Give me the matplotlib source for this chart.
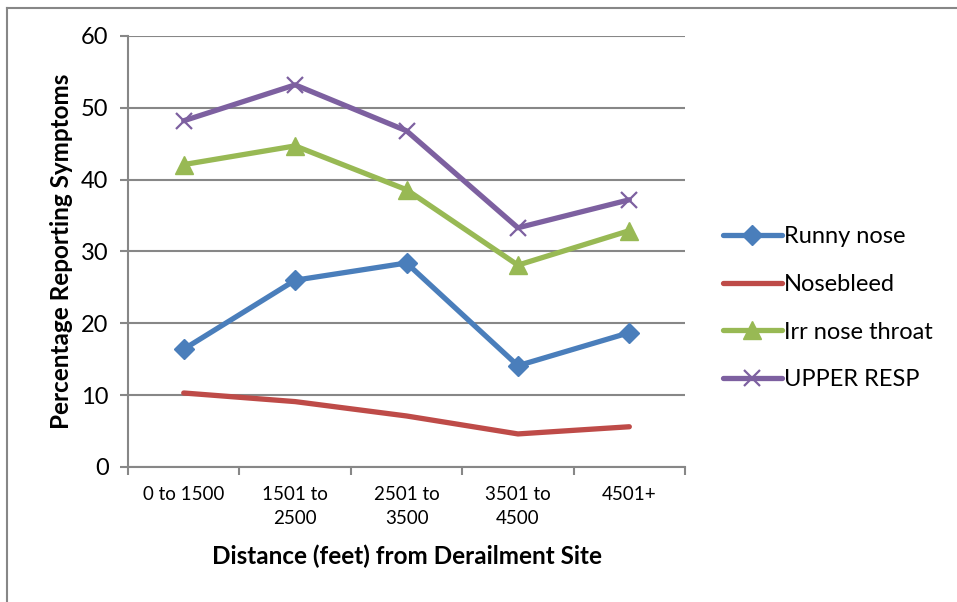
import matplotlib.pyplot as plt
from matplotlib.lines import Line2D
import numpy as np

plt.rcParams["font.family"] = ["Lato", "DejaVu Sans"]

distance_bins = ["0 to 1500", "1501 to\n2500", "2501 to\n3500", "3501 to\n4500", "4501+"]
runny_nose = [16.4, 26.0, 28.4, 14.1, 18.7]
nosebleed = [10.3, 9.1, 7.1, 4.6, 5.6]
irr_nose_throat = [42.1, 44.7, 38.6, 28.1, 32.9]
upper_resp = [48.2, 53.2, 46.8, 33.3, 37.2]
y_ticks = [0, 10, 20, 30, 40, 50, 60]

grey = "#878787"

fig = plt.figure(figsize=(9.57, 6.02), dpi=100)
ax = fig.add_axes([0.1338, 0.2243, 0.5820, 0.7159])

x = np.arange(len(distance_bins))
ax.plot(x, runny_nose, color="#4A7EBB", lw=3.8, marker="D", ms=10,
        label="Runny nose", solid_capstyle="round")
ax.plot(x, nosebleed, color="#BE4B48", lw=3.8,
        label="Nosebleed", solid_capstyle="round")
ax.plot(x, irr_nose_throat, color="#98B954", lw=3.8, marker="^", ms=13,
        label="Irr nose throat", solid_capstyle="round")
ax.plot(x, upper_resp, color="#7D60A0", lw=3.8, marker="x", ms=12, mew=1.6,
        label="UPPER RESP", solid_capstyle="round")

ax.set_xlim(-0.5, len(distance_bins) - 0.5)
ax.set_ylim(0, 60)
ax.set_yticks(y_ticks)
ax.yaxis.grid(True, color=grey, lw=1.5)
ax.set_axisbelow(True)

# category boundaries carry the tick marks, labels sit between them
ax.set_xticks(np.arange(-0.5, len(distance_bins)), labels=[])
ax.set_xticks(x, labels=distance_bins, minor=True)
ax.tick_params(axis="x", which="major", length=6, width=1.5, color=grey)
ax.tick_params(axis="x", which="minor", length=0, pad=14, labelsize=13.5)
ax.tick_params(axis="y", length=6, width=1.5, color=grey, labelsize=17, pad=8)
for lbl in ax.get_xticklabels(minor=True):
    lbl.set_linespacing(1.5)

for side in ("top", "right"):
    ax.spines[side].set_visible(False)
for side in ("left", "bottom"):
    ax.spines[side].set_color(grey)
    ax.spines[side].set_linewidth(1.5)

ax.set_xlabel("Distance (feet) from Derailment Site", fontsize=17.5,
              fontweight="bold", labelpad=12)
ax.set_ylabel("Percentage Reporting Symptoms", fontsize=17.5,
              fontweight="bold", labelpad=6)

ax.legend(loc="center left", bbox_to_anchor=(1.068, 0.368), frameon=False,
          fontsize=17, handlelength=2.5, handletextpad=0.1, labelspacing=1.13,
          borderaxespad=0, borderpad=0)

# outer chart frame
fig.add_artist(Line2D([7 / 957, 1], [1 - 8 / 602] * 2, color=grey, lw=1.5,
                      transform=fig.transFigure))
fig.add_artist(Line2D([7 / 957] * 2, [0, 1 - 8 / 602], color=grey, lw=1.5,
                      transform=fig.transFigure))

fig.savefig("out.png", dpi=100)
